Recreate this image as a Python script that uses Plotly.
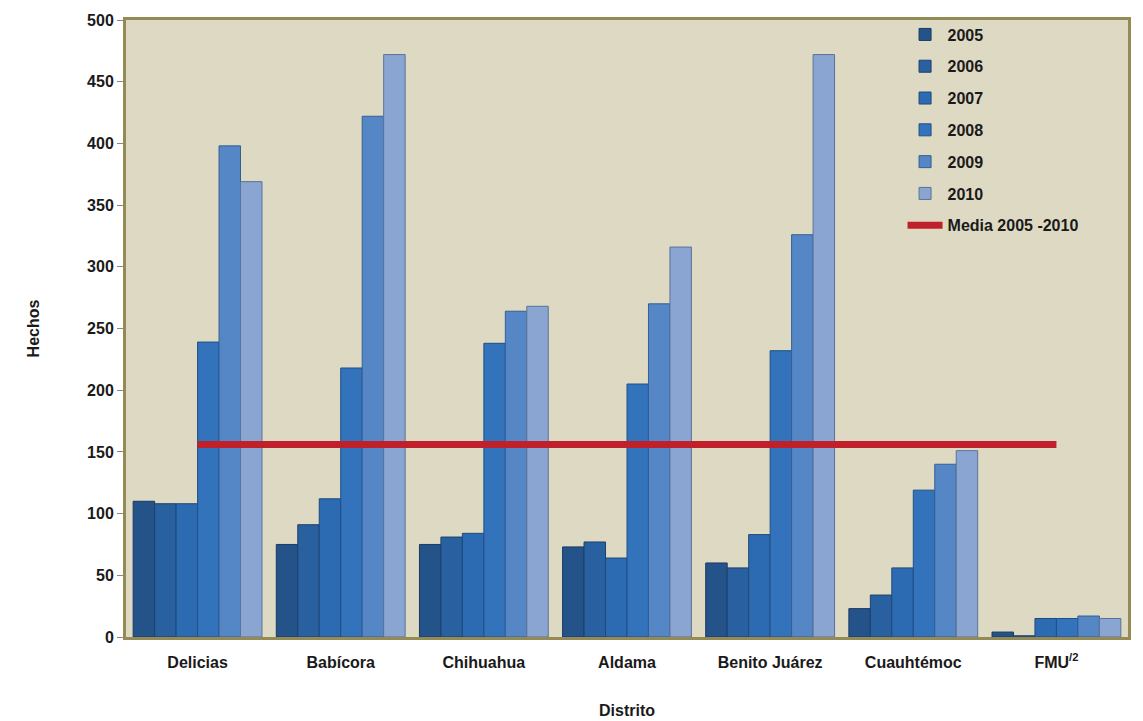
import plotly.graph_objects as go

categories = ["Delicias", "Babícora", "Chihuahua", "Aldama", "Benito Juárez", "Cuauhtémoc", "FMU<sup>/2</sup>"]
years = ["2005", "2006", "2007", "2008", "2009", "2010"]
v2005 = [110, 75, 75, 73, 60, 23, 4]
v2006 = [108, 91, 81, 77, 56, 34, 1]
v2007 = [108, 112, 84, 64, 83, 56, 15]
v2008 = [239, 218, 238, 205, 232, 119, 15]
v2009 = [398, 422, 264, 270, 326, 140, 17]
v2010 = [369, 472, 268, 316, 472, 151, 15]
media = [156, 156, 156, 156, 156, 156, 156]

series = [v2005, v2006, v2007, v2008, v2009, v2010]
colors = ["#24538A", "#29609F", "#2C6BB2", "#3273BC", "#5586C6", "#8AA5D2"]
outlines = ["#1A3A62", "#1C416C", "#1E4A7C", "#214F85", "#355F93", "#5A7399"]

fig = go.Figure()
for i, (yr, vals) in enumerate(zip(years, series)):
    fig.add_trace(go.Bar(
        x=categories, y=vals, name=yr, legendgroup=yr,
        marker=dict(color=colors[i], line=dict(color=outlines[i], width=1)),
    ))
fig.add_trace(go.Scatter(
    x=categories, y=media, name="Media 2005 -2010", legendgroup="media",
    mode="lines", line=dict(color="#C0202A", width=7),
))

font_main = "Liberation Sans, Arial, sans-serif"
fig.update_layout(
    width=1143, height=721,
    margin=dict(l=118, r=23, t=10, b=92),
    paper_bgcolor="white",
    plot_bgcolor="#DDD9C3",
    barmode="group", bargap=0.1, bargroupgap=0,
    font=dict(family=font_main, size=16, color="#1a1a1a"),
    showlegend=True,
    legend=dict(
        x=0.775, y=1.004, xanchor="left", yanchor="top",
        bgcolor="rgba(0,0,0,0)", borderwidth=0,
        font=dict(family=font_main, size=16, color="#1a1a1a", weight="bold"),
        tracegroupgap=8, itemwidth=35,
    ),
    xaxis=dict(
        automargin=False,
        showline=True, linecolor="#948A54", linewidth=3, mirror=True,
        tickfont=dict(family=font_main, size=16, weight="bold", color="#1a1a1a"),
        ticklabelstandoff=9,
        title=dict(text="<b>Distrito</b>", font=dict(family=font_main, size=16, color="#1a1a1a"), standoff=35),
        ticks="", showgrid=False,
    ),
    yaxis=dict(
        automargin=False,
        range=[0, 500], dtick=50,
        showline=True, linecolor="#948A54", linewidth=3, mirror=True,
        ticks="outside", ticklen=6, tickcolor="#888888",
        tickfont=dict(family=font_main, size=16, weight="bold", color="#1a1a1a"),
        title=dict(text="<b>Hechos</b>", font=dict(family=font_main, size=16, color="#1a1a1a"), standoff=44),
        showgrid=False, zeroline=False,
    ),
)

fig.write_html("out.html")
